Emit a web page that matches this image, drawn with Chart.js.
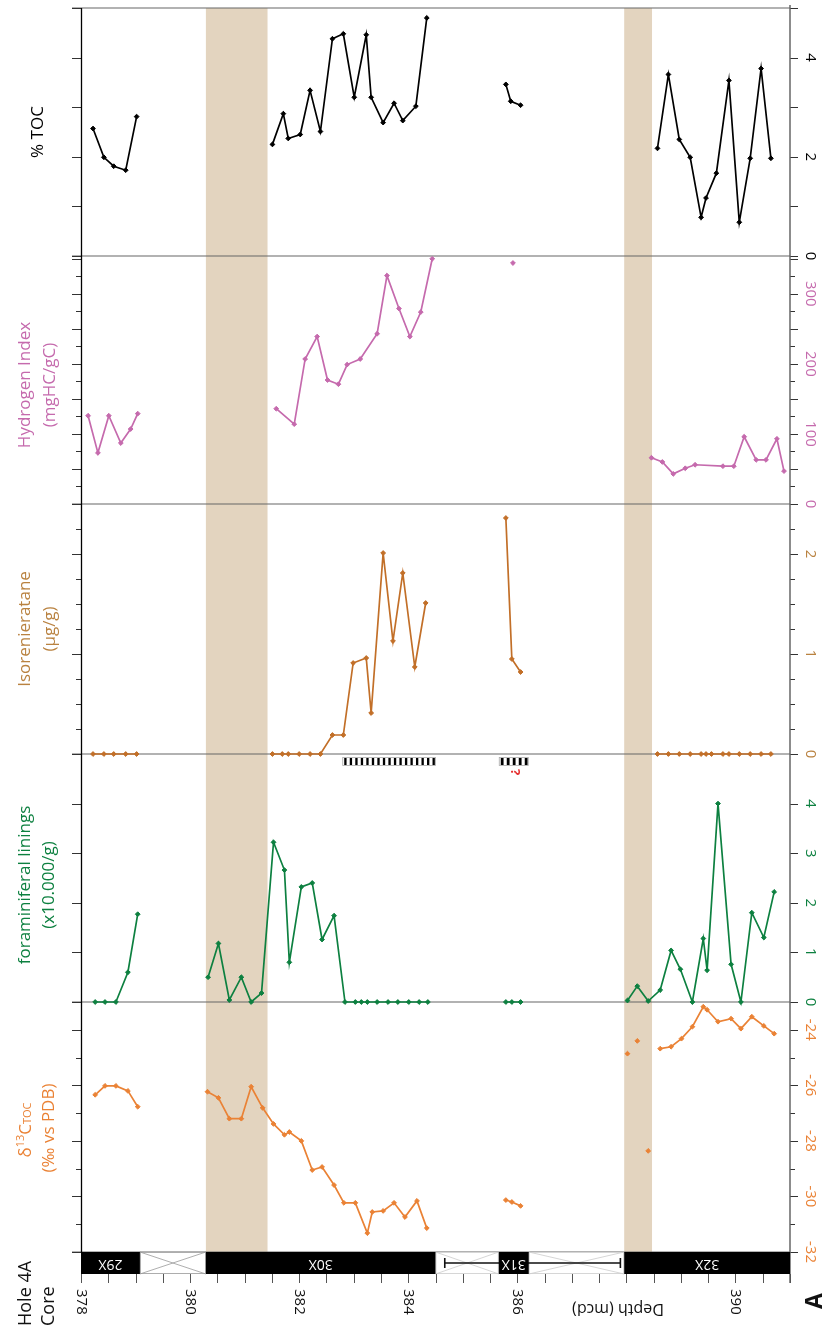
<!DOCTYPE html>
<html>
<head>
<meta charset="utf-8">
<script src="https://cdn.jsdelivr.net/npm/chart.js@4.4.0/dist/chart.umd.min.js"></script>
<style>
  html, body { margin: 0; padding: 0; background: #fff; }
</style>
</head>
<body>
<canvas id="chart" width="827" height="1327"></canvas>
<script>
// depth (mcd) of each sample, null values break the line between cores
const tocDepth = [378.22, 378.42, 378.60, 378.82, 379.02, 380.0,
  381.51, 381.71, 381.80, 382.02, 382.20, 382.39, 382.61, 382.81, 383.01, 383.23, 383.32, 383.54, 383.74, 383.90, 384.14, 384.34, 385.0,
  385.79, 385.88, 386.06, 387.0,
  388.57, 388.77, 388.97, 389.17, 389.37, 389.46, 389.65, 389.88, 390.07, 390.27, 390.47, 390.65];
const tocValues = [2.57, 1.99, 1.81, 1.73, 2.81, null,
  2.25, 2.87, 2.37, 2.45, 3.34, 2.51, 4.38, 4.48, 3.20, 4.46, 3.20, 2.69, 3.08, 2.73, 3.02, 4.80, null,
  3.46, 3.12, 3.04, null,
  2.17, 3.66, 2.35, 1.99, 0.78, 1.17, 1.67, 3.54, 0.68, 1.97, 3.78, 1.97];

const hiDepth = [378.13, 378.31, 378.51, 378.73, 378.91, 379.04, 380.0,
  381.58, 381.91, 382.11, 382.33, 382.52, 382.72, 382.88, 383.12, 383.43, 383.61, 383.83, 384.03, 384.23, 384.44, 385.0,
  385.92, 387.0,
  388.46, 388.66, 388.86, 389.08, 389.26, 389.77, 389.97, 390.16, 390.38, 390.56, 390.76, 390.89];
const hiValues = [126, 73, 126, 87, 107, 129, null,
  136, 114, 207, 239, 177, 171, 199, 207, 243, 326, 279, 239, 274, 350, null,
  344, null,
  66, 60, 43, 51, 56, 54, 54, 96, 63, 63, 93, 47];

const isoDepth = [378.22, 378.42, 378.60, 378.82, 379.02, 380.0,
  381.51, 381.69, 381.80, 382.00, 382.20, 382.39, 382.61, 382.81, 382.99, 383.23, 383.32, 383.54, 383.72, 383.90, 384.12, 384.32, 385.0,
  385.79, 385.90, 386.06, 387.0,
  388.57, 388.77, 388.97, 389.17, 389.37, 389.46, 389.56, 389.77, 389.88, 390.07, 390.27, 390.47, 390.65];
const isoValues = [0, 0, 0, 0, 0, null,
  0, 0, 0, 0, 0, 0, 0.19, 0.19, 0.91, 0.96, 0.41, 2.01, 1.13, 1.81, 0.87, 1.51, null,
  2.36, 0.95, 0.82, null,
  0, 0, 0, 0, 0, 0, 0, 0, 0, 0, 0, 0, 0];

const foramDepth = [378.26, 378.44, 378.64, 378.86, 379.04, 379.6,
  380.33, 380.52, 380.72, 380.94, 381.12, 381.31, 381.53, 381.73, 381.82, 382.04, 382.24, 382.42, 382.64, 382.84,
  383.03, 383.14, 383.25, 383.43, 383.63, 383.81, 384.01, 384.20, 384.36, 385.0,
  385.79, 385.90, 386.06, 387.0,
  388.02, 388.20, 388.40, 388.62, 388.82, 388.99, 389.21, 389.41, 389.48, 389.68, 389.92, 390.10, 390.30, 390.52, 390.71];
const foramValues = [0, 0, 0, 0.6, 1.77, null,
  0.5, 1.18, 0.04, 0.5, 0, 0.18, 3.22, 2.66, 0.8, 2.32, 2.4, 1.26, 1.74, 0,
  0, 0, 0, 0, 0, 0, 0, 0, 0, null,
  0, 0, 0, null,
  0.03, 0.32, 0.02, 0.24, 1.04, 0.66, 0, 1.28, 0.64, 4.0, 0.76, 0, 1.8, 1.3, 2.22];

const d13Depth = [378.26, 378.44, 378.64, 378.86, 379.04, 379.6,
  380.32, 380.52, 380.72, 380.94, 381.12, 381.33, 381.53, 381.73, 381.82, 382.04, 382.24, 382.42, 382.64, 382.82,
  383.03, 383.25, 383.34, 383.54, 383.74, 383.94, 384.16, 384.34, 385.0,
  385.79, 385.90, 386.06, 387.0,
  388.62, 388.82, 389.01, 389.21, 389.41, 389.48, 389.68, 389.92, 390.10, 390.30, 390.52, 390.71];
const d13Values = [-26.34, -26.02, -26.02, -26.2, -26.77, null,
  -26.23, -26.45, -27.2, -27.2, -26.05, -26.81, -27.39, -27.78, -27.68, -28.0, -29.05, -28.94, -29.59, -30.23,
  -30.23, -31.32, -30.56, -30.52, -30.23, -30.74, -30.16, -31.14, null,
  -30.13, -30.2, -30.34, null,
  -24.68, -24.61, -24.32, -23.89, -23.17, -23.28, -23.71, -23.6, -23.96, -23.53, -23.86, -24.14];
// loose d13C samples, not joined
const d13LooseDepth = [388.02, 388.20, 388.40];
const d13LooseValues = [-24.86, -24.4, -28.36];

// tick labels of each panel
const tocTicks = [0, 2, 4];
const hiTicks = [0, 100, 200, 300];
const isoTicks = [0, 1, 2];
const foramTicks = [0, 1, 2, 3, 4];
const d13Ticks = [-24, -26, -28, -30, -32];
const depthTicks = [378, 380, 382, 384, 386, 390];

// shaded intervals and core recovery
const bandStarts = [380.29, 387.96];
const bandEnds = [381.42, 388.47];
const coreNames = ['29X', '30X', '31X', '32X'];
const coreStarts = [378.0, 380.29, 385.66, 387.96];
const coreEnds = [379.08, 384.50, 386.21, 391.0];
const gapStarts = [379.08, 384.50, 386.21];
const gapEnds = [380.29, 385.66, 387.96];
const errorBar = [384.67, 387.89];
const hatchStarts = [382.79, 385.66];
const hatchEnds = [384.51, 386.21];

const FONT = '"Open Sans", "Noto Sans", sans-serif';
const colors = {
    toc: '#000000',
    hi: '#c56aad',
    iso: '#c26f28',
    isoText: '#b98240',
    foram: '#0d8040',
    d13: '#ea8235',
    band: '#e3d4bf',
    frame: '#666666'
};

// panel setup: axis id, range, minor and major tick step, labels, colour
const panels = [
    { id: 'yToc', min: 0, max: 5, minor: 1, major: 1, labels: tocTicks, color: colors.toc },
    { id: 'yHi', min: 0, max: 354, minor: 25, major: 50, labels: hiTicks, color: colors.hi },
    { id: 'yIso', min: 0, max: 2.5, minor: 0.25, major: 1, labels: isoTicks, color: colors.isoText },
    { id: 'yForam', min: 0, max: 5, minor: 1, major: 1, labels: foramTicks, color: colors.foram },
    { id: 'yD13', min: -32, max: -23, minor: 1, major: 2, labels: d13Ticks, color: colors.d13 }
];

function toPoints(depths, values) {
    return depths.map((d, i) => ({ x: d, y: values[i] }));
}

function rotText(ctx, str, x, y, angle, align, baseline) {
    ctx.save();
    ctx.translate(x, y);
    ctx.rotate(angle);
    ctx.textAlign = align;
    ctx.textBaseline = baseline;
    ctx.fillText(str, 0, 0);
    ctx.restore();
}

function series(label, depths, values, axis, color, showLine = true) {
    return {
        label: label,
        data: toPoints(depths, values),
        yAxisID: axis,
        clip: false,
        borderColor: color,
        backgroundColor: color,
        borderWidth: 1.7,
        showLine: showLine,
        spanGaps: false,
        pointStyle: 'rectRot',
        pointRadius: 2.4,
        pointBorderWidth: 1,
        pointBackgroundColor: color
    };
}

const decor = {
    id: 'decor',
    beforeDatasetsDraw(chart) {
        const { ctx, chartArea, scales } = chart;
        const x = scales.x;
        const left = chartArea.left, right = chartArea.right;
        const plotBottom = scales.yD13.bottom;
        ctx.save();

        // shaded intervals
        ctx.fillStyle = colors.band;
        bandStarts.forEach((s, i) => {
            const a = x.getPixelForValue(s), b = x.getPixelForValue(bandEnds[i]);
            ctx.fillRect(a, chartArea.top, b - a, plotBottom - chartArea.top);
        });

        // panel separators
        ctx.strokeStyle = colors.frame;
        ctx.lineWidth = 1.2;
        ctx.beginPath();
        ctx.moveTo(left - 9, chartArea.top);
        ctx.lineTo(right, chartArea.top);
        panels.forEach(p => {
            const yb = scales[p.id].bottom;
            ctx.moveTo(left - 9, yb);
            ctx.lineTo(right, yb);
        });
        ctx.stroke();

        // ticks on both sides
        panels.forEach(p => {
            const sc = scales[p.id];
            const n = Math.round((p.max - p.min) / p.minor);
            for (let k = 0; k <= n; k++) {
                const v = p.min + k * p.minor;
                const y = Math.round(sc.getPixelForValue(v)) + 0.5;
                const isMajor = Math.abs(v / p.major - Math.round(v / p.major)) < 1e-6;
                ctx.strokeStyle = '#333';
                ctx.lineWidth = 1;
                ctx.beginPath();
                ctx.moveTo(left - (isMajor ? 9 : 5), y);
                ctx.lineTo(left, y);
                ctx.moveTo(right, y);
                ctx.lineTo(right + (isMajor ? 8 : 5), y);
                ctx.stroke();
            }
        });

        // axis lines
        ctx.strokeStyle = '#000';
        ctx.lineWidth = 1.3;
        ctx.beginPath();
        ctx.moveTo(left + 0.5, chartArea.top);
        ctx.lineTo(left + 0.5, plotBottom);
        ctx.stroke();
        ctx.strokeStyle = colors.frame;
        ctx.lineWidth = 1.5;
        ctx.beginPath();
        ctx.moveTo(right, chartArea.top - 3);
        ctx.lineTo(right, chartArea.bottom + 9);
        ctx.stroke();
        ctx.restore();
    },
    afterDraw(chart) {
        const { ctx, chartArea, scales } = chart;
        const x = scales.x;
        const core = scales.yCore;
        const right = chartArea.right;
        ctx.save();

        // core recovery strip
        const cTop = core.top, cBot = core.bottom;
        gapStarts.forEach((s, i) => {
            const a = x.getPixelForValue(s), b = x.getPixelForValue(gapEnds[i]);
            ctx.fillStyle = '#fff';
            ctx.fillRect(a, cTop, b - a, cBot - cTop);
            ctx.strokeStyle = i === 0 ? '#999' : '#ccc';
            ctx.lineWidth = 0.8;
            ctx.strokeRect(a + 0.5, cTop + 0.5, b - a - 1, cBot - cTop - 1);
            ctx.beginPath();
            ctx.moveTo(a, cTop); ctx.lineTo(b, cBot);
            ctx.moveTo(a, cBot); ctx.lineTo(b, cTop);
            ctx.stroke();
        });
        // error bar on core 31X
        const e1 = x.getPixelForValue(errorBar[0]), e2 = x.getPixelForValue(errorBar[1]);
        const eY = (cTop + cBot) / 2;
        ctx.strokeStyle = '#111';
        ctx.lineWidth = 1.6;
        ctx.beginPath();
        ctx.moveTo(e1, eY); ctx.lineTo(e2, eY);
        ctx.moveTo(e1, eY - 5); ctx.lineTo(e1, eY + 5);
        ctx.moveTo(e2, eY - 5); ctx.lineTo(e2, eY + 5);
        ctx.stroke();
        coreNames.forEach((name, i) => {
            const a = x.getPixelForValue(coreStarts[i]), b = x.getPixelForValue(coreEnds[i]);
            ctx.fillStyle = '#000';
            ctx.fillRect(a, cTop, b - a, cBot - cTop);
            ctx.fillStyle = '#fff';
            ctx.font = '14px ' + FONT;
            rotText(ctx, name, (a + b) / 2, (cTop + cBot) / 2 + 1, Math.PI, 'center', 'middle');
        });

        // depth ticks
        ctx.strokeStyle = '#555';
        ctx.lineWidth = 1;
        ctx.beginPath();
        for (let d = 378; d <= 391.001; d += 0.5) {
            const px = Math.round(x.getPixelForValue(d)) + 0.5;
            ctx.moveTo(px, cBot);
            ctx.lineTo(px, cBot + 9);
        }
        ctx.stroke();
        ctx.fillStyle = '#111';
        ctx.font = '15px ' + FONT;
        depthTicks.forEach(d => {
            rotText(ctx, String(d), x.getPixelForValue(d), cBot + 15, Math.PI / 2, 'left', 'middle');
        });
        ctx.font = '16px ' + FONT;
        rotText(ctx, 'Depth (mcd)', 618, 1309, Math.PI, 'center', 'middle');
        ctx.font = 'bold 23px ' + FONT;
        rotText(ctx, 'A', 815, 1301, -Math.PI / 2, 'center', 'middle');

        // right tick labels
        panels.forEach(p => {
            const sc = scales[p.id];
            ctx.fillStyle = p.color;
            ctx.font = '15px ' + FONT;
            p.labels.forEach(v => {
                rotText(ctx, String(v), right + 16, sc.getPixelForValue(v), Math.PI / 2, 'center', 'alphabetic');
            });
        });

        // hatched intervals under the isorenieratane panel
        const hTop = scales.yForam.top + 3;
        hatchStarts.forEach((s, i) => {
            const a = x.getPixelForValue(s), b = x.getPixelForValue(hatchEnds[i]);
            ctx.fillStyle = '#fff';
            ctx.fillRect(a, hTop, b - a, 9);
            ctx.strokeStyle = '#aaa';
            ctx.lineWidth = 0.8;
            ctx.strokeRect(a + 0.5, hTop + 0.5, b - a - 1, 8);
            const n = Math.round((b - a) / 5.5);
            const w = (b - a) / n;
            ctx.fillStyle = '#000';
            for (let k = 0; k < n; k++) {
                ctx.fillRect(a + k * w + 2, hTop + 1, w - 3.2, 7);
            }
        });
        ctx.fillStyle = '#e53030';
        ctx.font = 'bold 13px ' + FONT;
        rotText(ctx, '?', 515, scales.yForam.top + 18, Math.PI / 2, 'center', 'middle');

        // left titles
        const mid = id => (scales[id].top + scales[id].bottom) / 2;
        ctx.font = '17px ' + FONT;
        ctx.fillStyle = colors.toc;
        rotText(ctx, '% TOC', 38, mid('yToc'), -Math.PI / 2, 'center', 'middle');
        ctx.fillStyle = colors.hi;
        rotText(ctx, 'Hydrogen Index', 25, mid('yHi') + 5, -Math.PI / 2, 'center', 'middle');
        rotText(ctx, '(mgHC/gC)', 50, mid('yHi') + 5, -Math.PI / 2, 'center', 'middle');
        ctx.fillStyle = colors.isoText;
        rotText(ctx, 'Isorenieratane', 25, mid('yIso'), -Math.PI / 2, 'center', 'middle');
        rotText(ctx, '(\u00b5g/g)', 50, mid('yIso'), -Math.PI / 2, 'center', 'middle');
        ctx.fillStyle = colors.foram;
        rotText(ctx, 'foraminiferal linings', 25, mid('yForam') + 7, -Math.PI / 2, 'center', 'middle');
        rotText(ctx, '(x10.000/g)', 49, mid('yForam') + 7, -Math.PI / 2, 'center', 'middle');

        // delta 13C title with superscript and small subscript
        ctx.fillStyle = colors.d13;
        const parts = [
            { t: '\u03b4', f: '17px ', dy: 0 },
            { t: '13', f: '11px ', dy: -7 },
            { t: 'C', f: '17px ', dy: 0 },
            { t: 'TOC', f: '11px ', dy: 0 }
        ];
        let total = 0;
        parts.forEach(pt => { ctx.font = pt.f + FONT; pt.w = ctx.measureText(pt.t).width; total += pt.w; });
        ctx.save();
        ctx.translate(31, mid('yD13') + 3);
        ctx.rotate(-Math.PI / 2);
        ctx.textBaseline = 'alphabetic';
        ctx.textAlign = 'left';
        let cx = -total / 2;
        parts.forEach(pt => { ctx.font = pt.f + FONT; ctx.fillText(pt.t, cx, pt.dy); cx += pt.w; });
        ctx.restore();
        ctx.font = '17px ' + FONT;
        rotText(ctx, '(\u2030 vs PDB)', 49, mid('yD13') + 1, -Math.PI / 2, 'center', 'middle');

        // core header
        ctx.fillStyle = '#111';
        ctx.font = '18px ' + FONT;
        rotText(ctx, 'Hole 4A', 26, 1326, -Math.PI / 2, 'left', 'middle');
        rotText(ctx, 'Core', 49, 1326, -Math.PI / 2, 'left', 'middle');
        ctx.restore();
    }
};

function stackedAxis(min, max, weight) {
    return {
        type: 'linear',
        position: 'right',
        stack: 'panels',
        stackWeight: weight,
        min: min,
        max: max,
        grid: { display: false, drawTicks: false },
        border: { display: false },
        ticks: { display: false }
    };
}

new Chart(document.getElementById('chart'), {
    type: 'line',
    data: {
        datasets: [
            series('% TOC', tocDepth, tocValues, 'yToc', colors.toc),
            series('Hydrogen Index', hiDepth, hiValues, 'yHi', colors.hi),
            series('Isorenieratane', isoDepth, isoValues, 'yIso', colors.iso),
            series('foraminiferal linings', foramDepth, foramValues, 'yForam', colors.foram),
            series('d13C TOC', d13Depth, d13Values, 'yD13', colors.d13),
            series('d13C TOC loose', d13LooseDepth, d13LooseValues, 'yD13', colors.d13, false)
        ]
    },
    options: {
        responsive: false,
        animation: false,
        layout: { padding: { left: 81, right: 37, top: 8, bottom: 53 } },
        plugins: { legend: { display: false }, tooltip: { enabled: false } },
        scales: {
            x: {
                type: 'linear',
                min: 378,
                max: 391,
                grid: { display: false, drawTicks: false },
                border: { display: false },
                ticks: { display: false }
            },
            yToc: stackedAxis(0, 5, 248),
            yHi: stackedAxis(0, 354, 248),
            yIso: stackedAxis(0, 2.5, 250),
            yForam: stackedAxis(0, 5, 248),
            yD13: stackedAxis(-32, -23, 250),
            yCore: stackedAxis(0, 1, 22)
        }
    },
    plugins: [decor]
});
</script>
</body>
</html>
